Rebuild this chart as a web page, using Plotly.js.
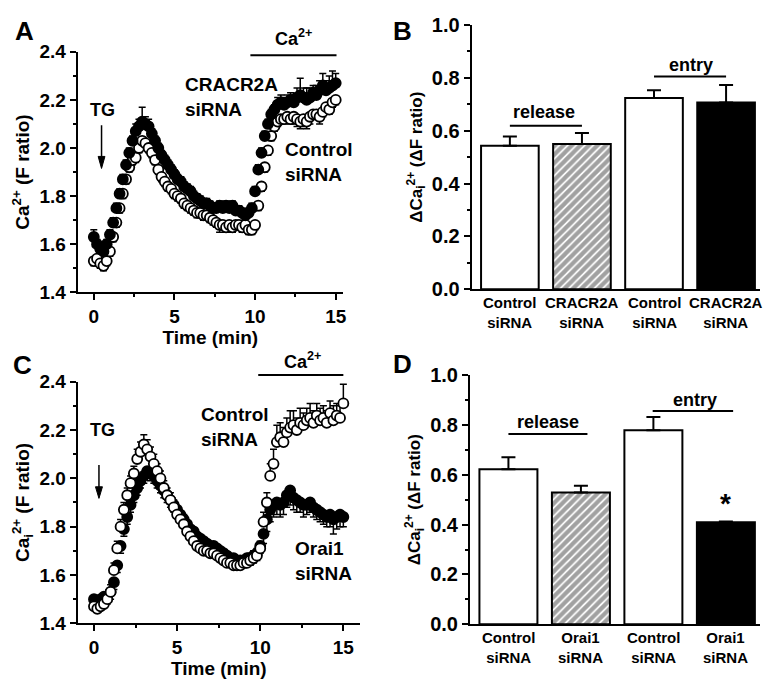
<!DOCTYPE html>
<html>
<head>
<meta charset="utf-8">
<script src="https://cdn.plot.ly/plotly-3.0.1.min.js"></script>
<style>html,body{margin:0;padding:0;background:#fff;}#chart{width:763px;height:691px;}</style>
</head>
<body>
<div id="chart"></div>
<script>
// ---------- Data ----------
const timeMin = [0,0.2,0.4,0.6,0.8,1.0,1.2,1.4,1.6,1.8,2.0,2.2,2.4,2.6,2.8,3.0,3.2,3.4,3.6,3.8,4.0,4.2,4.4,4.6,4.8,5.0,5.2,5.4,5.6,5.8,6.0,6.2,6.4,6.6,6.8,7.0,7.2,7.4,7.6,7.8,8.0,8.2,8.4,8.6,8.8,9.0,9.2,9.4,9.6,9.8,10.0,10.2,10.4,10.6,10.8,11.0,11.2,11.4,11.6,11.8,12.0,12.2,12.4,12.6,12.8,13.0,13.2,13.4,13.6,13.8,14.0,14.2,14.4,14.6,14.8,15.0];

// Panel A
const aCracr2a = [1.63,1.60,1.58,1.57,1.60,1.64,1.69,1.75,1.81,1.87,1.93,1.98,2.03,2.07,2.09,2.11,2.10,2.09,2.06,2.03,2.00,1.97,1.95,1.93,1.91,1.89,1.87,1.86,1.84,1.83,1.82,1.80,1.79,1.78,1.77,1.77,1.76,1.75,1.75,1.76,1.75,1.76,1.75,1.76,1.74,1.74,1.73,1.72,1.73,1.75,1.82,1.91,1.98,2.05,2.10,2.14,2.16,2.18,2.19,2.18,2.19,2.20,2.19,2.21,2.22,2.21,2.20,2.21,2.23,2.22,2.24,2.26,2.24,2.25,2.26,2.27];
const aCracr2aErr = [0.03,0.02,0.02,0.02,0.02,0.02,0.02,0.02,0.02,0.02,0.02,0.02,0.02,0.03,0.03,0.06,0.03,0.03,0.02,0.02,0.02,0.02,0.02,0.02,0.02,0.02,0.02,0.02,0.02,0.02,0.02,0.02,0.02,0.02,0.02,0.02,0.02,0.02,0.02,0.02,0.02,0.02,0.02,0.02,0.02,0.02,0.02,0.02,0.02,0.02,0.02,0.02,0.02,0.02,0.02,0.02,0.02,0.03,0.03,0.03,0.03,0.03,0.03,0.04,0.07,0.04,0.05,0.04,0.03,0.04,0.04,0.05,0.04,0.05,0.06,0.04];
const aControl = [1.53,1.54,1.52,1.51,1.53,1.57,1.63,1.69,1.75,1.81,1.87,1.92,1.95,1.96,2.00,2.03,2.02,2.00,1.98,1.95,1.91,1.88,1.86,1.84,1.83,1.81,1.80,1.79,1.77,1.76,1.75,1.74,1.73,1.73,1.72,1.72,1.71,1.70,1.69,1.68,1.68,1.67,1.68,1.67,1.68,1.68,1.67,1.68,1.66,1.66,1.68,1.76,1.84,1.92,1.99,2.05,2.09,2.11,2.12,2.12,2.13,2.12,2.13,2.12,2.11,2.12,2.11,2.13,2.14,2.14,2.13,2.15,2.17,2.16,2.19,2.20];
const aControlErr = [0.02,0.02,0.02,0.02,0.02,0.02,0.02,0.02,0.02,0.02,0.02,0.02,0.02,0.02,0.02,0.02,0.02,0.02,0.02,0.02,0.02,0.02,0.02,0.02,0.02,0.02,0.02,0.02,0.02,0.02,0.02,0.02,0.02,0.02,0.02,0.02,0.02,0.02,0.02,0.03,0.02,0.02,0.02,0.02,0.02,0.02,0.02,0.02,0.02,0.02,0.02,0.02,0.02,0.02,0.02,0.02,0.02,0.02,0.02,0.02,0.02,0.02,0.03,0.03,0.03,0.03,0.03,0.03,0.02,0.02,0.03,0.02,0.02,0.02,0.02,0.02];

// Panel C
const cOrai1 = [1.50,1.49,1.50,1.51,1.51,1.53,1.57,1.64,1.72,1.79,1.84,1.89,1.93,1.96,1.99,2.01,2.03,2.02,2.01,1.99,1.97,1.95,1.93,1.91,1.89,1.87,1.85,1.83,1.81,1.79,1.78,1.76,1.75,1.74,1.73,1.72,1.72,1.71,1.70,1.69,1.68,1.67,1.67,1.66,1.66,1.66,1.67,1.67,1.68,1.69,1.72,1.77,1.83,1.87,1.89,1.90,1.89,1.90,1.93,1.95,1.92,1.91,1.90,1.89,1.89,1.90,1.88,1.87,1.86,1.85,1.84,1.85,1.83,1.84,1.85,1.84];
const cOrai1Err = [0.03,0.03,0.03,0.03,0.03,0.03,0.03,0.03,0.03,0.03,0.03,0.03,0.03,0.03,0.03,0.03,0.03,0.03,0.03,0.03,0.03,0.03,0.03,0.03,0.03,0.03,0.03,0.03,0.03,0.03,0.03,0.03,0.03,0.03,0.03,0.03,0.03,0.03,0.03,0.03,0.03,0.03,0.03,0.03,0.03,0.03,0.03,0.03,0.03,0.03,0.03,0.04,0.05,0.05,0.05,0.05,0.05,0.05,0.05,0.06,0.05,0.05,0.04,0.05,0.04,0.04,0.04,0.04,0.04,0.04,0.04,0.05,0.06,0.05,0.05,0.04];
const cControl = [1.47,1.46,1.47,1.48,1.50,1.53,1.62,1.71,1.80,1.87,1.93,1.98,2.02,2.08,2.11,2.14,2.12,2.09,2.06,2.03,2.00,1.96,1.93,1.91,1.88,1.85,1.83,1.81,1.78,1.76,1.74,1.72,1.71,1.70,1.70,1.69,1.69,1.68,1.67,1.66,1.65,1.65,1.64,1.64,1.64,1.65,1.65,1.66,1.67,1.68,1.71,1.82,1.90,2.01,2.06,2.15,2.17,2.15,2.19,2.21,2.22,2.20,2.23,2.22,2.24,2.25,2.23,2.26,2.24,2.25,2.23,2.27,2.24,2.26,2.25,2.31];
const cControlErr = [0.03,0.03,0.03,0.03,0.03,0.03,0.03,0.03,0.03,0.03,0.03,0.03,0.03,0.04,0.04,0.04,0.04,0.04,0.04,0.03,0.03,0.03,0.03,0.03,0.03,0.03,0.03,0.04,0.04,0.03,0.03,0.03,0.03,0.03,0.03,0.03,0.03,0.03,0.03,0.03,0.03,0.03,0.03,0.03,0.03,0.03,0.03,0.03,0.03,0.03,0.03,0.04,0.04,0.05,0.06,0.07,0.06,0.06,0.06,0.07,0.06,0.05,0.06,0.05,0.05,0.06,0.05,0.05,0.05,0.05,0.05,0.05,0.06,0.05,0.05,0.08];

// Panel B
const bLabels = ['Control<br>siRNA','CRACR2A<br>siRNA','Control<br>siRNA','CRACR2A<br>siRNA'];
const bValues = [0.543,0.550,0.724,0.707];
const bErrors = [0.035,0.041,0.029,0.066];

// Panel D
const dLabels = ['Control<br>siRNA','Orai1<br>siRNA','Control<br>siRNA','Orai1<br>siRNA'];
const dValues = [0.622,0.529,0.778,0.409];
const dErrors = [0.048,0.027,0.054,0.003];

const barPos = [0,1,2,3];
const barFill = ['white','white','white','black'];
const barPattern = ['','/','',''];

// ---------- Style ----------
const FONT = 'Liberation Sans, Arial, sans-serif';
const fnt = (s) => ({family: FONT, size: s, color: '#000', weight: 'bold'});

function scatterTrace(y, err, filled, xa, ya, up) {
  return {
    type: 'scatter', mode: 'markers', x: timeMin, y: y,
    xaxis: xa, yaxis: ya, cliponaxis: false,
    marker: {symbol: 'circle', size: 10, color: filled ? '#000' : '#fff', line: {color: '#000', width: 1.8}},
    error_y: {type: 'data', symmetric: false,
      array: up ? err : y.map(() => 0), arrayminus: up ? y.map(() => 0) : err,
      color: '#000', thickness: 1.5, width: 3.5},
    showlegend: false, hoverinfo: 'skip'
  };
}
function barTrace(vals, errs, xa, ya) {
  return {
    type: 'bar', x: barPos, y: vals, width: 0.8, xaxis: xa, yaxis: ya,
    marker: {color: barFill, line: {color: '#000', width: 2},
      pattern: {shape: barPattern, fgcolor: '#000', bgcolor: '#fff', size: 6, solidity: 0.7, fillmode: 'overlay'}},
    error_y: {type: 'data', symmetric: false, array: errs, arrayminus: errs.map(() => 0), color: '#000', thickness: 2, width: 7},
    showlegend: false, hoverinfo: 'skip'
  };
}

const data = [
  scatterTrace(aControl, aControlErr, false, 'x', 'y', false),
  scatterTrace(aCracr2a, aCracr2aErr, true, 'x', 'y', true),
  scatterTrace(cOrai1, cOrai1Err, true, 'x3', 'y3', false),
  scatterTrace(cControl, cControlErr, false, 'x3', 'y3', true),
  barTrace(bValues, bErrors, 'x2', 'y2'),
  barTrace(dValues, dErrors, 'x4', 'y4')
];

const minorY = {dtick: 0.1, ticks: 'outside', ticklen: 3, tickwidth: 2, tickcolor: '#000'};
const minorX = {tickvals: [2.5,7.5,12.5], ticks: 'outside', ticklen: 3, tickwidth: 2, tickcolor: '#000'};
const baseAxis = {
  showline: true, linecolor: '#000', linewidth: 2, mirror: false,
  showgrid: false, zeroline: false, ticks: 'outside', ticklen: 6, tickwidth: 2, tickcolor: '#000',
  fixedrange: true
};
function ax(extra) { return Object.assign({}, baseAxis, extra); }
const yTimeTicks = [1.4,1.6,1.8,2.0,2.2,2.4];
const yTimeText = ['1.4','1.6','1.8','2.0','2.2','2.4'];
const yBarTicks = [0,0.2,0.4,0.6,0.8,1.0];
const yBarText = ['0.0','0.2','0.4','0.6','0.8','1.0'];

const shapes = [
  {type: 'line', xref: 'x', yref: 'y', x0: 9.71, x1: 15.05, y0: 2.386, y1: 2.386, line: {color: '#000', width: 2}},
  {type: 'line', xref: 'x3', yref: 'paper', x0: 9.88, x1: 15.0, y0: 1 - 375/691, y1: 1 - 375/691, line: {color: '#000', width: 2}},
  {type: 'line', xref: 'x2', yref: 'y2', x0: 0, x1: 1.0, y0: 0.619, y1: 0.619, line: {color: '#000', width: 2}},
  {type: 'line', xref: 'x2', yref: 'y2', x0: 2.0, x1: 3.0, y0: 0.805, y1: 0.805, line: {color: '#000', width: 2}},
  {type: 'line', xref: 'x4', yref: 'y4', x0: 0, x1: 1.09, y0: 0.763, y1: 0.763, line: {color: '#000', width: 2}},
  {type: 'line', xref: 'x4', yref: 'y4', x0: 1.99, x1: 3.1, y0: 0.856, y1: 0.856, line: {color: '#000', width: 2}},
  {type: 'line', xref: 'x', yref: 'y', x0: 0.48, x1: 0.48, y0: 2.095, y1: 1.94, line: {color: '#000', width: 1.5}},
  {type: 'path', xref: 'x', yref: 'y', path: 'M 0.27,1.965 L 0.69,1.965 L 0.48,1.915 Z', fillcolor: '#000', line: {color: '#000', width: 1}},
  {type: 'line', xref: 'x3', yref: 'y3', x0: 0.3, x1: 0.3, y0: 2.055, y1: 1.94, line: {color: '#000', width: 1.5}},
  {type: 'path', xref: 'x3', yref: 'y3', path: 'M 0.09,1.965 L 0.51,1.965 L 0.3,1.917 Z', fillcolor: '#000', line: {color: '#000', width: 1}}
];

const annotations = [
  {xref: 'paper', yref: 'paper', x: 13/763, y: 1 - 14/691, text: 'A', showarrow: false, font: fnt(26)},
  {xref: 'paper', yref: 'paper', x: 403/763, y: 1 - 14/691, text: 'B', showarrow: false, font: fnt(26)},
  {xref: 'paper', yref: 'paper', x: 11/763, y: 1 - 365/691, text: 'C', showarrow: false, font: fnt(26)},
  {xref: 'paper', yref: 'paper', x: 402/763, y: 1 - 364/691, text: 'D', showarrow: false, font: fnt(26)},
  {xref: 'x', yref: 'y', x: 0.56, y: 2.158, text: 'TG', showarrow: false, font: fnt(18)},
  {xref: 'paper', yref: 'paper', x: 293/763, y: 1 - 51/691, yanchor: 'bottom', text: 'Ca<sup>2+</sup>', showarrow: false, font: fnt(18)},
  {xref: 'x', yref: 'y', x: 5.52, y: 2.212, xanchor: 'left', align: 'left', text: 'CRACR2A<br>siRNA', showarrow: false, font: fnt(19)},
  {xref: 'x', yref: 'y', x: 11.72, y: 1.94, xanchor: 'left', align: 'left', text: 'Control<br>siRNA', showarrow: false, font: fnt(19)},
  {xref: 'x3', yref: 'y3', x: 0.54, y: 2.2, text: 'TG', showarrow: false, font: fnt(18)},
  {xref: 'paper', yref: 'paper', x: 302/763, y: 1 - 374/691, yanchor: 'bottom', text: 'Ca<sup>2+</sup>', showarrow: false, font: fnt(18)},
  {xref: 'x3', yref: 'y3', x: 6.33, y: 2.212, xanchor: 'left', align: 'left', text: 'Control<br>siRNA', showarrow: false, font: fnt(19)},
  {xref: 'x3', yref: 'y3', x: 11.99, y: 1.658, xanchor: 'left', align: 'left', text: 'Orai1<br>siRNA', showarrow: false, font: fnt(19)},
  {xref: 'x2', yref: 'y2', x: 0.48, y: 0.671, text: 'release', showarrow: false, font: fnt(18)},
  {xref: 'x2', yref: 'y2', x: 2.52, y: 0.849, text: 'entry', showarrow: false, font: fnt(18)},
  {xref: 'x4', yref: 'y4', x: 0.54, y: 0.811, text: 'release', showarrow: false, font: fnt(18)},
  {xref: 'x4', yref: 'y4', x: 2.58, y: 0.90, text: 'entry', showarrow: false, font: fnt(18)},
  {xref: 'x4', yref: 'y4', x: 3.0, y: 0.485, text: '*', showarrow: false, font: fnt(28)}
];

// category labels under the bars (stacked, two lines each)
function addBarLabels(labels, xa, ya) {
  barPos.forEach((p, i) => {
    annotations.push({xref: xa, yref: ya, x: p, y: 0, text: labels[i], showarrow: false,
      xanchor: 'center', yanchor: 'top', align: 'center', yshift: -3, font: fnt(15)});
  });
}
addBarLabels(bLabels, 'x2', 'y2');
addBarLabels(dLabels, 'x4', 'y4');

const layout = {
  width: 763, height: 691, margin: {l: 0, r: 0, t: 0, b: 0},
  paper_bgcolor: '#fff', plot_bgcolor: 'rgba(0,0,0,0)',
  font: {family: FONT, color: '#000'},
  showlegend: false,
  xaxis: ax({domain: [0.1018, 0.4495], anchor: 'y', range: [-1.0, 15.45], tickvals: [0,5,10,15], tickfont: fnt(19),
    minor: minorX, title: {text: 'Time (min)', font: fnt(19), standoff: 1}}),
  yaxis: ax({domain: [0.577, 0.925], anchor: 'x', range: [1.4, 2.4], tickvals: yTimeTicks, ticktext: yTimeText, tickfont: fnt(19),
    minor: minorY, title: {text: 'Ca<sup>2+</sup> (F ratio)', font: fnt(19), standoff: 5}}),
  xaxis2: ax({domain: [0.6182, 0.996], anchor: 'y2', range: [-0.53, 3.47], ticks: '', showticklabels: false}),
  yaxis2: ax({domain: [0.5813, 0.9638], anchor: 'x2', range: [0, 1.0], tickvals: yBarTicks, ticktext: yBarText, tickfont: fnt(20),
    minor: minorY, title: {text: 'ΔCa<sub>i</sub><sup>2+</sup> (ΔF ratio)', font: fnt(17), standoff: 5}}),
  xaxis3: ax({domain: [0.1018, 0.4718], anchor: 'y3', range: [-0.98, 16.0], tickvals: [0,5,10,15], tickfont: fnt(19),
    minor: minorX, title: {text: 'Time (min)', font: fnt(19), standoff: 1}}),
  yaxis3: ax({domain: [0.098, 0.4476], anchor: 'x3', range: [1.4, 2.4], tickvals: yTimeTicks, ticktext: yTimeText, tickfont: fnt(19),
    minor: minorY, title: {text: 'Ca<sub>i</sub><sup>2+</sup> (F ratio)', font: fnt(19), standoff: 5}}),
  xaxis4: ax({domain: [0.616, 0.996], anchor: 'y4', range: [-0.53, 3.47], ticks: '', showticklabels: false}),
  yaxis4: ax({domain: [0.0965, 0.4573], anchor: 'x4', range: [0, 1.0], tickvals: yBarTicks, ticktext: yBarText, tickfont: fnt(20),
    minor: minorY, title: {text: 'ΔCa<sub>i</sub><sup>2+</sup> (ΔF ratio)', font: fnt(17), standoff: 5}}),
  shapes: shapes,
  annotations: annotations
};

Plotly.newPlot('chart', data, layout, {displayModeBar: false, staticPlot: true});
</script>
</body>
</html>
